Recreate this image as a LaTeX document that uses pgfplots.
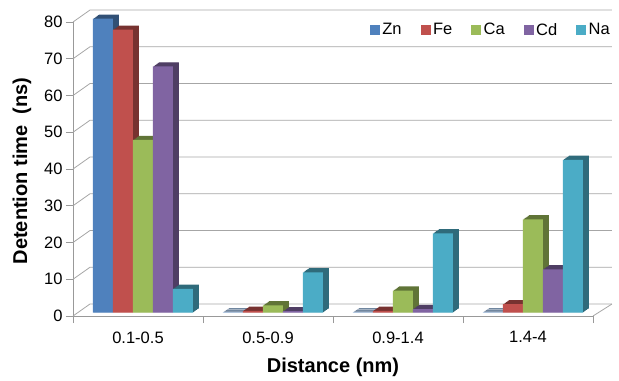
\documentclass[border=0pt]{standalone}
\usepackage{fontspec}
\setmainfont{Liberation Sans}
\usepackage{pgfplots}
\usepackage{pgfplotstable}
\pgfplotsset{compat=1.18}
\definecolor{cZn}{HTML}{4F81BD}
\definecolor{cFe}{HTML}{C0504D}
\definecolor{cCa}{HTML}{9BBB59}
\definecolor{cCd}{HTML}{8064A2}
\definecolor{cNa}{HTML}{4BACC6}
\pgfplotstableread{
x Zn Fe Ca Cd Na
0 80 77 47 67 6.5
1 0.1 0.5 2 0.4 11
2 0.1 0.5 6 1 21.6
3 0.1 2.3 25.4 11.8 41.6
}\datatable
\pgfplotsset{sqleg/.style={legend image code/.code={\fill[#1] (0pt,-4.5pt) rectangle (9pt,4.5pt);}}}
\newcommand{\barseries}[3]{%
  \pgfplotsinvokeforeach{1,2,3,4,5,6}{%
    \addplot[forget plot, fill=#2!62!black, draw=none, bar shift=#3, xshift={##1*1pt}, yshift={3.3pt+##1*0.7pt}] table[x=x,y=#1]{\datatable};
  }
  \addplot[forget plot, fill=#2, draw=none, bar shift=#3, yshift=3.3pt] table[x=x,y=#1]{\datatable};
}
\begin{document}
\begin{tikzpicture}
\begin{axis}[
  scale only axis, width=520pt, height=294pt,
  xmin=-0.5, xmax=3.5, ymin=0, ymax=80,
  ybar, bar width=20pt,
  clip=false,
  axis x line*=bottom, axis y line*=left,
  axis line style={gray!80, line width=0.8pt},
  tick style={gray!80, line width=0.8pt},
  tick align=outside, major tick length=7pt,
  ytick={0,10,...,80},
  xtick={-0.5,0.5,1.5,2.5,3.5}, xticklabels={},
  extra x ticks={0,1,2,3},
  extra x tick labels={0.1-0.5,0.5-0.9,0.9-1.4,1.4-4},
  extra x tick style={major tick length=0pt, tick label style={yshift=-12pt}},
  ticklabel style={font=\fontsize{16.5}{19}\selectfont},
  /pgf/number format/assume math mode=true,
  xlabel={Distance (nm)}, ylabel={Detention time\ \ (ns)},
  label style={font=\bfseries\fontsize{20}{24}\selectfont},
  xlabel style={yshift=-1pt},
  ylabel style={xshift=-2pt, yshift=6pt},
  legend columns=5,
  legend style={draw=none, fill=none, at={(rel axis cs:1,1)}, anchor=north east,
    xshift=22pt, yshift=3pt, font=\fontsize{16.5}{19}\selectfont,
    /tikz/every odd column/.append style={column sep=1pt},
    /tikz/every even column/.append style={column sep=17pt}},
]
\pgfplotsinvokeforeach{0,10,...,80}{%
  \draw[gray!70, line width=0.8pt] (axis cs:-0.5,#1) -- ++(17pt,12pt) -- ([xshift=19pt,yshift=12pt]axis cs:3.5,#1);
}
\draw[gray!70, line width=0.8pt] (axis cs:3.5,0) -- ++(19pt,12pt);
\barseries{Zn}{cZn}{-35pt}
\barseries{Fe}{cFe}{-15pt}
\barseries{Ca}{cCa}{5pt}
\barseries{Cd}{cCd}{25pt}
\barseries{Na}{cNa}{45pt}
\addlegendimage{sqleg=cZn}\addlegendentry{Zn}
\addlegendimage{sqleg=cFe}\addlegendentry{Fe}
\addlegendimage{sqleg=cCa}\addlegendentry{Ca}
\addlegendimage{sqleg=cCd}\addlegendentry{Cd}
\addlegendimage{sqleg=cNa}\addlegendentry{Na}
\path (rel axis cs:0,0) ++(-73pt,-60pt) rectangle ++(619pt,376pt);
\end{axis}
\end{tikzpicture}
\end{document}
